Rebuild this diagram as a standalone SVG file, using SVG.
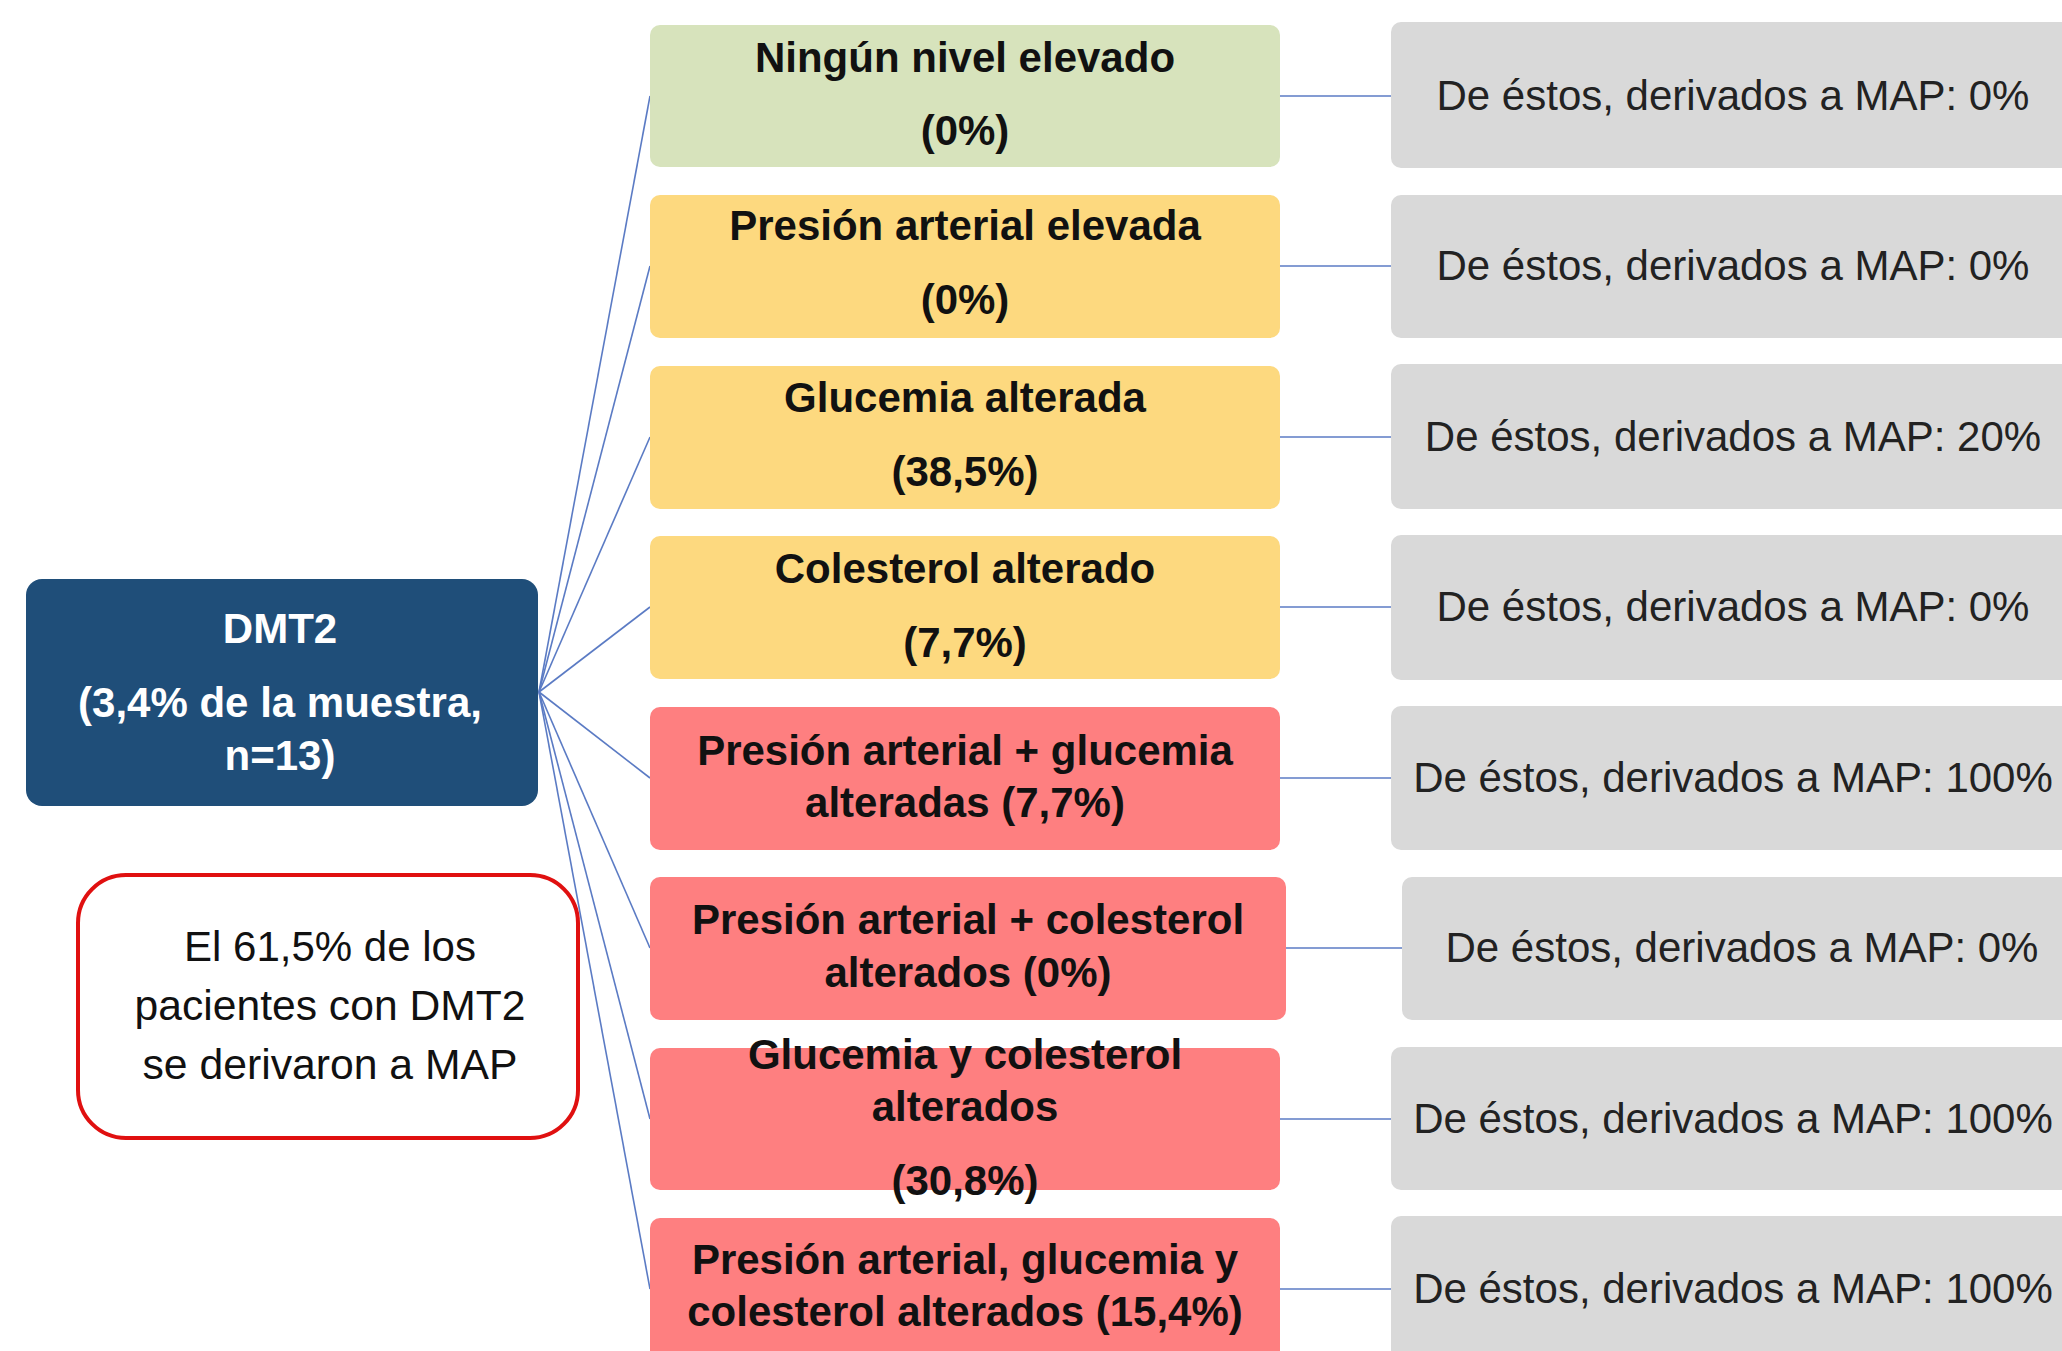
<svg xmlns="http://www.w3.org/2000/svg" width="2062" height="1351" viewBox="0 0 2062 1351">
<style>
.bx{stroke:none}
.g{fill:#d7e3bc}
.y{fill:#fdd97f}
.r{fill:#fe7f80}
.gr{fill:#d9d9d9}
.t{font-family:"Liberation Sans",Arial,sans-serif;font-size:42px;font-weight:bold;fill:#111;text-anchor:middle}
.tg{font-family:"Liberation Sans",Arial,sans-serif;font-size:42px;fill:#222;text-anchor:middle}
.tw{font-family:"Liberation Sans",Arial,sans-serif;font-size:42px;font-weight:bold;fill:#fff;text-anchor:middle}
.tn{font-family:"Liberation Sans",Arial,sans-serif;font-size:43px;fill:#111;text-anchor:middle}
.ln{stroke:#5b7bc4;stroke-width:1.6;fill:none}
</style>
<rect width="2062" height="1351" fill="#fff"/>
<g id="connectors">
<line class="ln" x1="539" y1="692" x2="650" y2="96"/>
<line class="ln" x1="539" y1="692" x2="650" y2="266"/>
<line class="ln" x1="539" y1="692" x2="650" y2="437"/>
<line class="ln" x1="539" y1="692" x2="650" y2="607"/>
<line class="ln" x1="539" y1="692" x2="650" y2="778"/>
<line class="ln" x1="539" y1="692" x2="650" y2="948"/>
<line class="ln" x1="539" y1="692" x2="650" y2="1119"/>
<line class="ln" x1="539" y1="692" x2="650" y2="1289"/>
<line class="ln" x1="1280" y1="96" x2="1391" y2="96"/>
<line class="ln" x1="1280" y1="266" x2="1391" y2="266"/>
<line class="ln" x1="1280" y1="437" x2="1391" y2="437"/>
<line class="ln" x1="1280" y1="607" x2="1391" y2="607"/>
<line class="ln" x1="1280" y1="778" x2="1391" y2="778"/>
<line class="ln" x1="1286" y1="948" x2="1402" y2="948"/>
<line class="ln" x1="1280" y1="1119" x2="1391" y2="1119"/>
<line class="ln" x1="1280" y1="1289" x2="1391" y2="1289"/>
</g>
<g id="root">
<rect x="26" y="579" width="512" height="227" rx="16" fill="#1f4e79"/>
<text class="tw" x="280" y="643">DMT2</text>
<text class="tw" x="280" y="717">(3,4% de la muestra,</text>
<text class="tw" x="280" y="770">n=13)</text>
</g>
<g id="note">
<rect x="78" y="875" width="500" height="263" rx="48" fill="#fff" stroke="#e01010" stroke-width="4"/>
<text class="tn" x="330" y="961" textLength="292" lengthAdjust="spacingAndGlyphs">El 61,5% de los</text>
<text class="tn" x="330" y="1020" textLength="391" lengthAdjust="spacingAndGlyphs">pacientes con DMT2</text>
<text class="tn" x="330" y="1079" textLength="375" lengthAdjust="spacingAndGlyphs">se derivaron a MAP</text>
</g>
<g id="n1">
<rect class="bx g" x="650" y="25" width="630" height="142" rx="10"/>
<text class="t" x="965" y="72">Ningún nivel elevado</text>
<text class="t" x="965" y="145">(0%)</text>
</g>
<g id="n2">
<rect class="bx y" x="650" y="195" width="630" height="143" rx="10"/>
<text class="t" x="965" y="240">Presión arterial elevada</text>
<text class="t" x="965" y="314">(0%)</text>
</g>
<g id="n3">
<rect class="bx y" x="650" y="366" width="630" height="143" rx="10"/>
<text class="t" x="965" y="412">Glucemia alterada</text>
<text class="t" x="965" y="486">(38,5%)</text>
</g>
<g id="n4">
<rect class="bx y" x="650" y="536" width="630" height="143" rx="10"/>
<text class="t" x="965" y="583">Colesterol alterado</text>
<text class="t" x="965" y="657">(7,7%)</text>
</g>
<g id="n5">
<rect class="bx r" x="650" y="707" width="630" height="143" rx="10"/>
<text class="t" x="965" y="765">Presión arterial + glucemia</text>
<text class="t" x="965" y="817">alteradas (7,7%)</text>
</g>
<g id="n6">
<rect class="bx r" x="650" y="877" width="636" height="143" rx="10"/>
<text class="t" x="968" y="934">Presión arterial + colesterol</text>
<text class="t" x="968" y="987">alterados (0%)</text>
</g>
<g id="n7">
<rect class="bx r" x="650" y="1048" width="630" height="142" rx="10"/>
<text class="t" x="965" y="1069">Glucemia y colesterol</text>
<text class="t" x="965" y="1121">alterados</text>
<text class="t" x="965" y="1195">(30,8%)</text>
</g>
<g id="n8">
<rect class="bx r" x="650" y="1218" width="630" height="160" rx="10"/>
<text class="t" x="965" y="1274">Presión arterial, glucemia y</text>
<text class="t" x="965" y="1326">colesterol alterados (15,4%)</text>
</g>
<g id="m1"><rect class="bx gr" x="1391" y="22" width="700" height="146" rx="10"/><text class="tg" x="1733" y="110">De éstos, derivados a MAP: 0%</text></g>
<g id="m2"><rect class="bx gr" x="1391" y="195" width="700" height="143" rx="10"/><text class="tg" x="1733" y="280">De éstos, derivados a MAP: 0%</text></g>
<g id="m3"><rect class="bx gr" x="1391" y="364" width="700" height="145" rx="10"/><text class="tg" x="1733" y="451">De éstos, derivados a MAP: 20%</text></g>
<g id="m4"><rect class="bx gr" x="1391" y="535" width="700" height="145" rx="10"/><text class="tg" x="1733" y="621">De éstos, derivados a MAP: 0%</text></g>
<g id="m5"><rect class="bx gr" x="1391" y="706" width="700" height="144" rx="10"/><text class="tg" x="1733" y="792">De éstos, derivados a MAP: 100%</text></g>
<g id="m6"><rect class="bx gr" x="1402" y="877" width="700" height="143" rx="10"/><text class="tg" x="1742" y="962">De éstos, derivados a MAP: 0%</text></g>
<g id="m7"><rect class="bx gr" x="1391" y="1047" width="700" height="143" rx="10"/><text class="tg" x="1733" y="1133">De éstos, derivados a MAP: 100%</text></g>
<g id="m8"><rect class="bx gr" x="1391" y="1216" width="700" height="160" rx="10"/><text class="tg" x="1733" y="1303">De éstos, derivados a MAP: 100%</text></g>
</svg>
